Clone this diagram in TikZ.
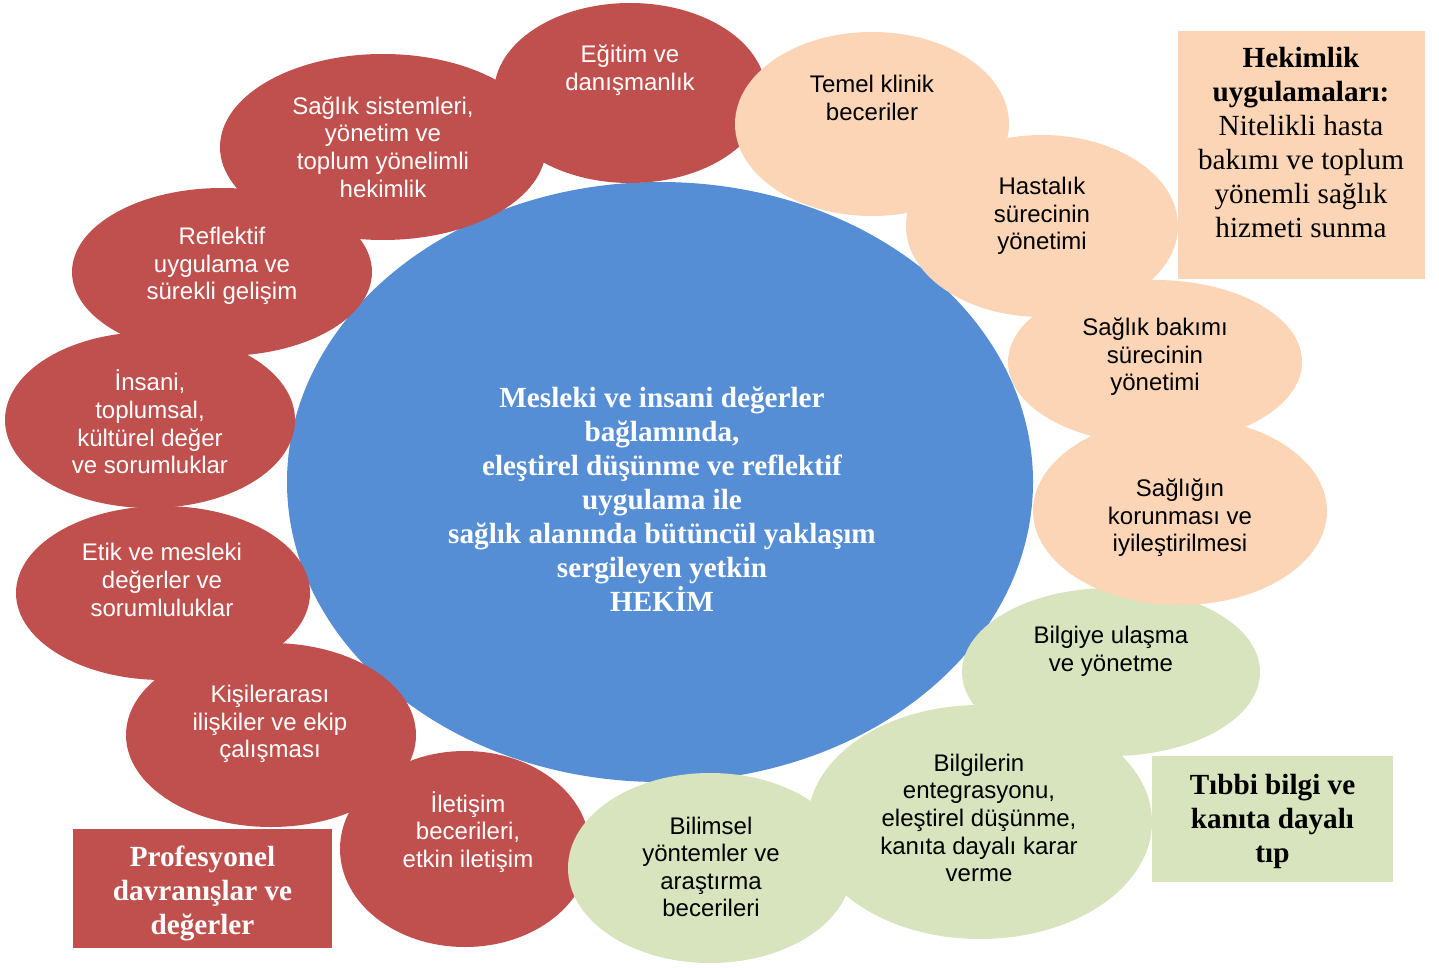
\documentclass[tikz,border=0pt]{standalone}
\usepackage{fontspec}
\setmainfont{Liberation Serif}
\newfontfamily\arialfont{Liberation Sans}
\usetikzlibrary{shapes.geometric}
\usetikzlibrary{positioning}
\definecolor{kirmizi}{HTML}{C0504D}
\definecolor{mavi}{HTML}{558ED5}
\definecolor{seftali}{HTML}{FBD5B5}
\definecolor{yesil}{HTML}{D7E4BD}
\tikzset{bubble/.style={ellipse, inner sep=0pt, draw=none},
oval/.style 2 args={minimum width=#1pt, minimum height=#2pt},
etiket/.style={align=center, inner sep=0pt, font=\arialfont\fontsize{12}{13.8}\selectfont},
beyaz/.style={etiket, text=white},
kutu/.style={align=center, inner sep=0pt, font=\fontsize{14.6}{17}\selectfont}}

\begin{document}
\begin{tikzpicture}[x=0.5pt, y=-0.5pt]
	\useasboundingbox (0,0) rectangle (1439,968);
	% orta
	\node[bubble, fill=mavi, oval={373}{300}] (hekim) at (660,482) {};
	% kirmizi halka
	\node[bubble, fill=kirmizi, oval={136}{90}] (egitim) at (630,93) {};
	\node[bubble, fill=kirmizi, oval={163}{93}] (sistem) at (383,147) {};
	\node[bubble, fill=kirmizi, oval={150}{84}] (reflektif) at (222,272) {};
	\node[bubble, fill=kirmizi, oval={145}{88}] (insani) at (150,420) {};
	\node[bubble, fill=kirmizi, oval={147}{87}] (etik) at (163,593) {};
	\node[bubble, fill=kirmizi, oval={145}{92}] (kisiler) at (271,735) {};
	\node[bubble, fill=kirmizi, oval={125}{98}] (iletisim) at (465,849) {};
	% yesil halka
	\node[bubble, fill=yesil, oval={149}{84}] (bilgiye) at (1111,672) {};
	\node[bubble, fill=yesil, oval={172}{117}] (bilgiler) at (980,822) {};
	\node[bubble, fill=yesil, oval={142}{95}] (bilimsel) at (710,868) {};
	% seftali halka
	\node[bubble, fill=seftali, oval={147}{94}] (koruma) at (1180,511) {};
	\node[bubble, fill=seftali, oval={147}{82}] (bakim) at (1155,362) {};
	\node[bubble, fill=seftali, oval={136}{91}] (hastalik) at (1042,226) {};
	\node[bubble, fill=seftali, oval={137}{92}] (temel) at (872,124) {};
	% kutular
	\node[kutu, fill=seftali, minimum width=123.5pt, minimum height=124pt] (uygulama) at (1301.5,155) {};
	\node[kutu, fill=yesil, minimum width=120.5pt, minimum height=63pt] (tibbi) at (1272.5,819) {};
	\node[kutu, fill=kirmizi, minimum width=129.5pt, minimum height=59.5pt] (profesyonel) at (202.5,888.5) {};
	% yazilar
	\node[kutu, text=white] (hekim-t) at (662,499) {\bfseries Mesleki ve insani değerler\\\bfseries bağlamında,\\\bfseries eleştirel düşünme ve reflektif\\\bfseries uygulama ile\\\bfseries sağlık alanında bütüncül yaklaşım\\\bfseries sergileyen yetkin\\\bfseries HEKİM};
	\node[kutu] (uygulama-t) at (1301,143) {\bfseries Hekimlik\\\bfseries uygulamaları:\\Nitelikli hasta\\bakımı ve toplum\\yönemli sağlık\\hizmeti sunma};
	\node[kutu] (tibbi-t) at (1272.5,821) {\bfseries Tıbbi bilgi ve\\\bfseries kanıta dayalı\\\bfseries tıp};
	\node[kutu, text=white] (profesyonel-t) at (202.5,893) {\bfseries Profesyonel\\\bfseries davranışlar ve\\\bfseries değerler};
	\node[beyaz] (egitim-t) at (630,70) {Eğitim ve\\danışmanlık};
	\node[beyaz] (sistem-t) at (383,147) {Sağlık sistemleri,\\yönetim ve\\toplum yönelimli\\hekimlik};
	\node[beyaz] (reflektif-t) at (222,266) {Reflektif\\uygulama ve\\sürekli gelişim};
	\node[beyaz] (insani-t) at (150,422) {İnsani,\\toplumsal,\\kültürel değer\\ve sorumluklar};
	\node[beyaz] (etik-t) at (162,580) {Etik ve mesleki\\değerler ve\\sorumluluklar};
	\node[beyaz] (kisiler-t) at (270,724) {Kişilerarası\\ilişkiler ve ekip\\çalışması};
	\node[beyaz] (iletisim-t) at (468,832) {İletişim\\becerileri,\\etkin iletişim};
	\node[etiket] (bilimsel-t) at (711,867) {Bilimsel\\yöntemler ve\\araştırma\\becerileri};
	\node[etiket] (bilgiler-t) at (979,818) {Bilgilerin\\entegrasyonu,\\eleştirel düşünme,\\kanıta dayalı karar\\verme};
	\node[etiket] (bilgiye-t) at (1111,651) {Bilgiye ulaşma\\ve yönetme};
	\node[etiket] (koruma-t) at (1180,518) {Sağlığın\\korunması ve\\iyileştirilmesi};
	\node[etiket] (bakim-t) at (1155,357) {Sağlık bakımı\\sürecinin\\yönetimi};
	\node[etiket] (hastalik-t) at (1042,216) {Hastalık\\sürecinin\\yönetimi};
	\node[etiket] (temel-t) at (872,98) {Temel klinik\\beceriler};
\end{tikzpicture}
\end{document}
